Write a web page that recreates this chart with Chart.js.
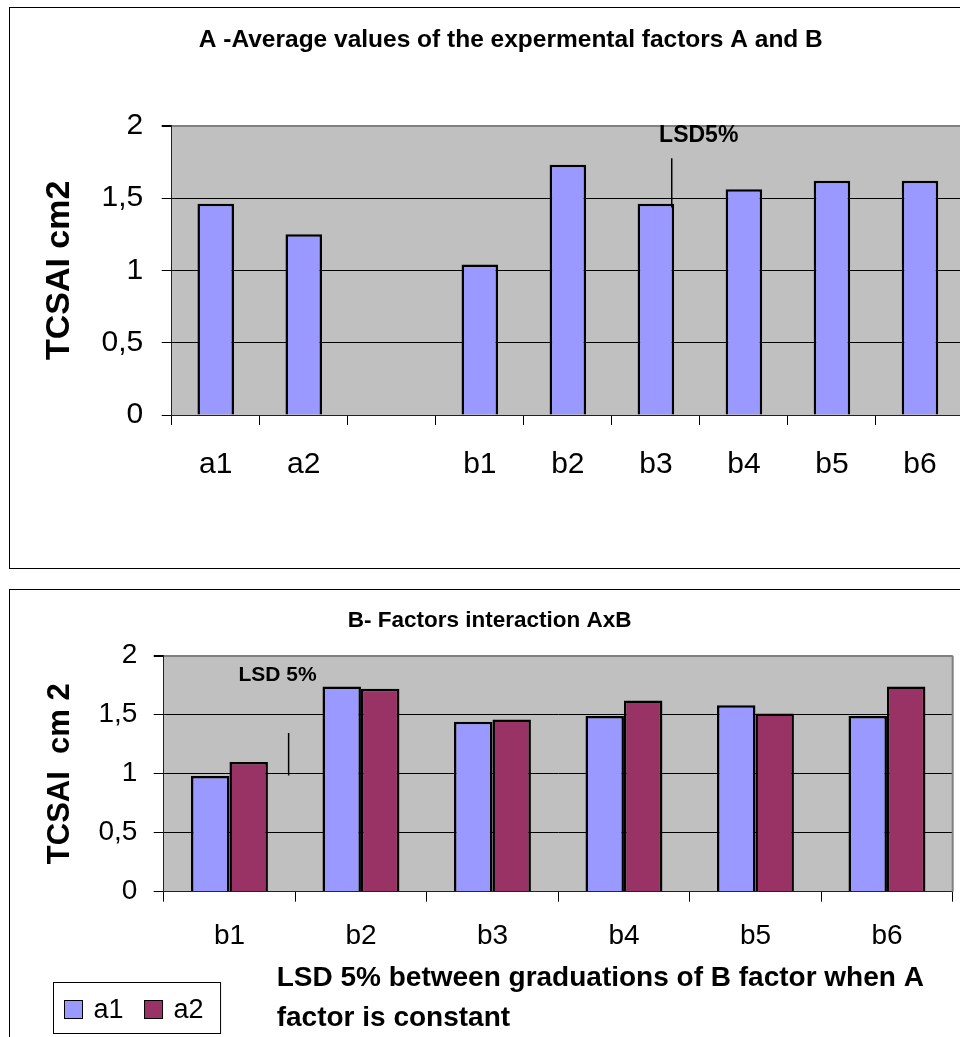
<!DOCTYPE html>
<html><head><meta charset="utf-8">
<script src="https://cdn.jsdelivr.net/npm/chart.js@4"></script>
<style>
html,body{margin:0;padding:0;background:#fff;overflow:hidden;width:960px;height:1037px;}
#wa{position:absolute;left:0;top:0;width:964px;height:580px;}
#wb{position:absolute;left:0;top:580px;width:960px;height:457px;}
canvas{display:block;}
</style></head><body>
<div id="wa"><canvas id="ca" width="964" height="580" style="width:964px;height:580px"></canvas></div>
<div id="wb"><canvas id="cb" width="960" height="457" style="width:960px;height:457px"></canvas></div>
<script>
// ---------- data ----------
const titleA = 'A -Average values of the expermental factors A and B';
const titleB = 'B- Factors interaction AxB';
const categoriesA = ['a1', 'a2', '', 'b1', 'b2', 'b3', 'b4', 'b5', 'b6'];
const valuesA = [1.46, 1.25, null, 1.04, 1.73, 1.46, 1.56, 1.62, 1.62];
const categoriesB = ['b1', 'b2', 'b3', 'b4', 'b5', 'b6'];
const seriesNames = ['a1', 'a2'];
const valuesA1 = [0.98, 1.74, 1.44, 1.49, 1.58, 1.49];
const valuesA2 = [1.10, 1.72, 1.46, 1.62, 1.51, 1.74];
const yTickValues = [0, 0.5, 1, 1.5, 2];
const yTitleA = 'TCSAI cm2';
const yTitleB = 'TCSAI  cm 2';
const lsdA = [1.435, 1.775];   // LSD 5% segment, chart A (beside b3)
const lsdB = [0.985, 1.345];   // LSD 5% segment, chart B (after b1)
const lsdLabelA = 'LSD5%';
const lsdLabelB = 'LSD 5%';
const xTitleB = ['LSD 5% between graduations of B factor when A', 'factor is constant'];

// ---------- styling ----------
const FONT = "'Liberation Sans', Arial, Helvetica, sans-serif";
Chart.defaults.font.family = FONT;
Chart.defaults.color = '#000';
const C1 = '#9999FF', C2 = '#993366', PLOT_BG = '#C0C0C0';
const fmt = v => String(v).replace('.', ',');

function yScale(fontSize, pad, titleText, titleSize, titlePad, width) {
  return {
    min: 0, max: 2,
    afterBuildTicks: s => { s.ticks = yTickValues.map(v => ({value: v})); },
    ticks: {font: {size: fontSize}, padding: pad, color: '#000', callback: v => fmt(v)},
    grid: {
      color: c => (c.tick && c.tick.value === 2) ? '#808080' : '#000',
      lineWidth: c => (c.tick && c.tick.value === 2) ? 2 : 1,
      tickColor: '#000', tickLength: 10, drawTicks: true
    },
    border: {display: true, color: '#222', width: 1},
    title: {display: true, text: titleText, font: {size: titleSize, weight: 'bold'}, color: '#000',
            padding: {top: titlePad, bottom: 0}},
    afterFit: s => { s.width = width; }
  };
}
function xScale(fontSize, pad, height) {
  return {
    ticks: {font: {size: fontSize}, padding: pad, color: '#000', autoSkip: false, maxRotation: 0, minRotation: 0},
    grid: {display: true, drawOnChartArea: false, drawTicks: true, tickLength: 10, color: '#000', offset: true},
    border: {display: true, color: '#222', width: 1},
    afterFit: s => { s.height = height; }
  };
}

function drawText(ctx, txt, x, y, size, bold, align) {
  ctx.save();
  ctx.font = (bold ? 'bold ' : '') + size + 'px ' + FONT;
  ctx.fillStyle = '#000';
  ctx.textAlign = align || 'left';
  ctx.textBaseline = 'alphabetic';
  ctx.fillText(txt, x, y);
  ctx.restore();
}

// ---------- chart A ----------
const decoA = {
  id: 'decoA',
  beforeDraw(chart) {
    const {ctx, chartArea: a} = chart;
    ctx.save();
    ctx.fillStyle = PLOT_BG;
    ctx.fillRect(a.left, a.top, a.right - a.left, a.bottom - a.top);
    ctx.strokeStyle = '#000'; ctx.lineWidth = 1;
    ctx.strokeRect(9.5, 7.5, 1100, 561);
    ctx.restore();
  },
  afterDraw(chart) {
    const {ctx} = chart;
    const xs = chart.scales.x, ys = chart.scales.y;
    drawText(ctx, titleA, 510.8, 47.3, 24.5, true, 'center');
    const x = xs.getPixelForValue(categoriesA.indexOf('b3') + 0.18);
    ctx.save();
    ctx.strokeStyle = '#000'; ctx.lineWidth = 1.5;
    ctx.beginPath();
    ctx.moveTo(x, ys.getPixelForValue(lsdA[0]));
    ctx.lineTo(x, ys.getPixelForValue(lsdA[1]));
    ctx.stroke();
    ctx.restore();
    drawText(ctx, lsdLabelA, x + 27, 141.7, 23, true, 'center');
  }
};

new Chart(document.getElementById('ca'), {
  type: 'bar',
  data: {
    labels: categoriesA,
    datasets: [{label: 'A', data: valuesA, backgroundColor: C1, borderColor: '#000', borderWidth: 2.5,
                barPercentage: 0.415, categoryPercentage: 1}]
  },
  options: {
    responsive: false, animation: false, devicePixelRatio: 1,
    layout: {padding: {left: 0, top: 125.7, right: 0, bottom: 0}},
    plugins: {legend: {display: false}, title: {display: false}, tooltip: {enabled: false}},
    scales: {
      x: xScale(30, 21.6, 165),
      y: yScale(30, 18.4, yTitleA, 34, 39.6, 171.7)
    }
  },
  plugins: [decoA]
});

// ---------- chart B ----------
const decoB = {
  id: 'decoB',
  beforeDraw(chart) {
    const {ctx, chartArea: a} = chart;
    ctx.save();
    ctx.fillStyle = PLOT_BG;
    ctx.fillRect(a.left, a.top, a.right - a.left, a.bottom - a.top);
    ctx.strokeStyle = '#000'; ctx.lineWidth = 1;
    ctx.strokeRect(9.5, 9.5, 1100, 600);
    ctx.restore();
  },
  beforeDatasetsDraw(chart) {
    const {ctx, chartArea: a} = chart;
    ctx.save();
    ctx.strokeStyle = '#808080'; ctx.lineWidth = 2;
    ctx.beginPath();
    ctx.moveTo(a.right, a.top); ctx.lineTo(a.right, a.bottom);
    ctx.stroke();
    ctx.restore();
  },
  afterDraw(chart) {
    const {ctx} = chart;
    const xs = chart.scales.x, ys = chart.scales.y;
    drawText(ctx, titleB, 489.7, 46.7, 22.5, true, 'center');
    const x = xs.getPixelForValue(categoriesB.indexOf('b1') + 0.45);
    ctx.save();
    ctx.strokeStyle = '#000'; ctx.lineWidth = 1.5;
    ctx.beginPath();
    ctx.moveTo(x, ys.getPixelForValue(lsdB[0]));
    ctx.lineTo(x, ys.getPixelForValue(lsdB[1]));
    ctx.stroke();
    ctx.restore();
    drawText(ctx, lsdLabelB, x - 11, 101, 21, true, 'center');
    // x-axis title (two lines, left aligned)
    drawText(ctx, xTitleB[0], 276.7, 406, 28, true, 'left');
    drawText(ctx, xTitleB[1], 276.7, 445.7, 28, true, 'left');
    // legend
    const lx = 53.5, ly = 402.5, lh = 51;
    ctx.save();
    ctx.font = '27px ' + FONT;
    let cx = lx + 11;
    const items = chart.data.datasets;
    const pos = [];
    items.forEach((ds, i) => {
      pos.push(cx);
      cx += 18 + 11 + ctx.measureText(ds.label).width + (i < items.length - 1 ? 21 : 17);
    });
    ctx.fillStyle = '#fff';
    ctx.strokeStyle = '#000'; ctx.lineWidth = 1;
    ctx.fillRect(lx, ly, cx - lx, lh);
    ctx.strokeRect(lx, ly, cx - lx, lh);
    items.forEach((ds, i) => {
      ctx.fillStyle = ds.backgroundColor;
      ctx.fillRect(pos[i], 420.5, 18, 18);
      ctx.strokeRect(pos[i], 420.5, 18, 18);
      ctx.fillStyle = '#000';
      ctx.textBaseline = 'alphabetic';
      ctx.textAlign = 'left';
      ctx.fillText(ds.label, pos[i] + 29, 438.3);
    });
    ctx.restore();
  }
};

new Chart(document.getElementById('cb'), {
  type: 'bar',
  data: {
    labels: categoriesB,
    datasets: [
      {label: seriesNames[0], data: valuesA1, backgroundColor: C1, borderColor: '#000', borderWidth: 2.5,
       barPercentage: 1, categoryPercentage: 0.585},
      {label: seriesNames[1], data: valuesA2, backgroundColor: C2, borderColor: '#000', borderWidth: 2.5,
       barPercentage: 1, categoryPercentage: 0.585}
    ]
  },
  options: {
    responsive: false, animation: false, devicePixelRatio: 1,
    layout: {padding: {left: 0, top: 75.7, right: 7.3, bottom: 0}},
    plugins: {legend: {display: false}, title: {display: false}, tooltip: {enabled: false}},
    scales: {
      x: xScale(28, 17.5, 145.3),
      y: yScale(28, 16.4, yTitleB, 31, 41.4, 163.7)
    }
  },
  plugins: [decoB]
});
</script>
</body></html>
